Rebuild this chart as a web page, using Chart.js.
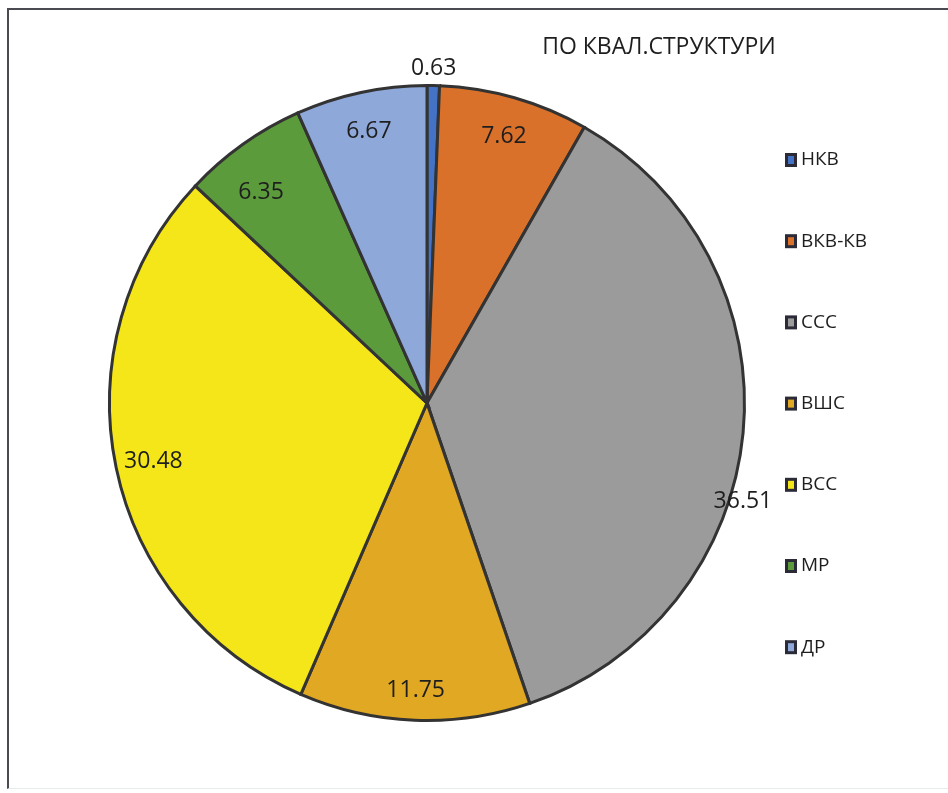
<!DOCTYPE html>
<html>
<head>
<meta charset="utf-8">
<script src="https://cdn.jsdelivr.net/npm/chart.js@4.4.1/dist/chart.umd.min.js"></script>
<style>
  html, body { margin: 0; padding: 0; background: #fff; }
  #frame {
    position: absolute; left: 7px; top: 8px; width: 941px; height: 781px;
    border-top: 2px solid #4a4a52; border-left: 2px solid #4a4a52;
    border-bottom: 1px solid #e4ecec; box-sizing: border-box;
  }
  #wrap { position: absolute; left: 0; top: 0; width: 948px; height: 793px; }
</style>
</head>
<body>
<div id="frame"></div>
<div id="wrap"><canvas id="pie" width="948" height="793"></canvas></div>
<script>
// qualification structure, percent shares
const categories = ['НКВ', 'ВКВ-КВ', 'ССС', 'ВШС', 'ВСС', 'МР', 'ДР'];
const shares = [0.63, 7.62, 36.51, 11.75, 30.48, 6.35, 6.67];
const sliceColors = ['#4472c4', '#d9712b', '#9b9b9b', '#e0a823', '#f4e619', '#5c9b3c', '#8fa8da'];
const chartTitle = 'ПО КВАЛ.СТРУКТУРИ';

// where each value label sits: fraction of radius and extra turn in degrees
const labelRadius = [1.06, 0.88, 1.04, 0.9, 0.88, 0.85, 0.88];
const labelTurn = [0, 0, 11.5, 0, 0, -2.5, 0];

const FONT = '"Open Sans", "Noto Sans", sans-serif';

const decorations = {
  id: 'decorations',
  afterDatasetsDraw(chart) {
    const ctx = chart.ctx;
    const arcs = chart.getDatasetMeta(0).data;
    ctx.save();
    ctx.fillStyle = '#1e1e1e';
    ctx.textAlign = 'center';
    ctx.textBaseline = 'middle';
    ctx.font = '23px ' + FONT;
    arcs.forEach((arc, i) => {
      const p = arc.getProps(['x', 'y', 'startAngle', 'endAngle', 'outerRadius'], true);
      const a = (p.startAngle + p.endAngle) / 2 + labelTurn[i] * Math.PI / 180;
      const r = p.outerRadius * labelRadius[i];
      ctx.fillText(shares[i].toFixed(2), p.x + Math.cos(a) * r, p.y + Math.sin(a) * r + 2);
    });

    // title
    ctx.font = '23px ' + FONT;
    ctx.fillText(chartTitle, 659, 47);

    // legend column
    ctx.textAlign = 'left';
    ctx.font = '19px ' + FONT;
    categories.forEach((name, i) => {
      const y = 160 + i * 81.2;
      ctx.fillStyle = '#2b2b38';
      ctx.fillRect(785, y - 7, 12, 14);
      ctx.fillStyle = sliceColors[i];
      ctx.fillRect(788, y - 4, 6, 8);
      ctx.fillStyle = '#1e1e1e';
      ctx.fillText(name, 801, y);
    });
    ctx.restore();
  }
};

new Chart(document.getElementById('pie'), {
  type: 'pie',
  data: {
    labels: categories,
    datasets: [{
      data: shares,
      backgroundColor: sliceColors,
      borderColor: '#333333',
      borderWidth: 3,
      borderJoinStyle: 'miter'
    }]
  },
  options: {
    responsive: false,
    animation: false,
    rotation: 0,
    layout: { padding: { left: 108, right: 202, top: 84, bottom: 71 } },
    plugins: {
      legend: { display: false },
      tooltip: { enabled: false },
      title: { display: false }
    }
  },
  plugins: [decorations]
});
</script>
</body>
</html>
